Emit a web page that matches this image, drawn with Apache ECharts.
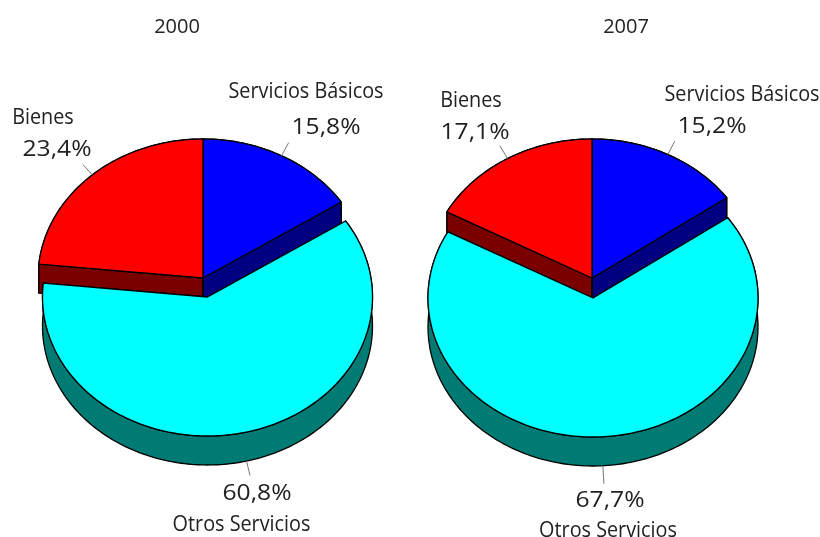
<!DOCTYPE html>
<html><head><meta charset="utf-8">
<script src="https://cdn.jsdelivr.net/npm/echarts@6/dist/echarts.min.js"></script>
<style>html,body{margin:0;padding:0;background:#fff}#c{width:820px;height:537px}</style>
</head><body><div id="c"></div>
<script>
// ---- data ----
const years = ['2000', '2007'];
const categories = ['Servicios Básicos', 'Otros Servicios', 'Bienes'];
const values2000 = [15.8, 60.8, 23.4];
const values2007 = [15.2, 67.7, 17.1];

// ---- styles and layout (no data here) ----
const topColors = ['#0000ff', '#00ffff', '#ff0000'];
const sideColors = ['#000080', '#007b73', '#7a0000'];
const drawOrder = [0, 2, 1];
const pies = [
  { cx: 203, cy: 278, rx: 165, ry: 139, depth: 29, explode: [[0, 0], [4.5, 19], [0, 0]],
    nameAt: [[306, 92], [241.5, 525], [43, 118]], pctAt: [[326, 128], [257, 494], [57, 150]], leader: [15, 15, 14] },
  { cx: 592, cy: 278, rx: 165, ry: 139, depth: 29, explode: [[0, 0], [1, 20], [0, 0]],
    nameAt: [[742, 95], [608, 531], [471, 101]], pctAt: [[712, 127], [610, 501], [475, 133]], leader: [15, 18, 15] }
];
const allValues = [values2000, values2007];
const NAME_FONT = { font: '22px "Open Sans"', scaleX: 0.9 };
const PCT_FONT = { font: '22px "Open Sans"', scaleX: 1.12 };
const TEXT = '#222';

function pt(p, off, theta, dy) {
  return [p.cx + off[0] + p.rx * Math.sin(theta), p.cy + off[1] + (dy || 0) - p.ry * Math.cos(theta)];
}
function arc(p, off, a, b, dy) {
  const n = Math.max(2, Math.ceil((b - a) / 0.02)), r = [];
  for (let i = 0; i <= n; i++) r.push(pt(p, off, a + (b - a) * i / n, dy));
  return r;
}
function poly(points, fill) {
  return { type: 'polygon', shape: { points }, style: { fill, stroke: '#000', lineWidth: 1.3, lineJoin: 'round' } };
}
function label(text, at, f) {
  return { type: 'text', x: at[0], y: at[1], scaleX: f.scaleX, z2: 10,
    style: { text, x: 0, y: 0, font: f.font, fill: TEXT, align: 'center', verticalAlign: 'middle' } };
}
function makeRender(yi) {
  const vals = allValues[yi], p = pies[yi];
  const total = vals.reduce((a, b) => a + b, 0);
  return function (params, api) {
    const i = api.value(0);
    let s = 0;
    for (let k = 0; k < i; k++) s += vals[k];
    const a = s / total * 2 * Math.PI, b = (s + vals[i]) / total * 2 * Math.PI;
    const off = p.explode[i], d = p.depth;
    const apex = [p.cx + off[0], p.cy + off[1]];
    const apexLow = [apex[0], apex[1] + d];
    const top = arc(p, off, a, b, 0), low = arc(p, off, a, b, d);
    const children = [
      poly(top.concat(low.slice().reverse()), sideColors[i]),
      poly([apex, top[0], low[0], apexLow], sideColors[i]),
      poly([apex, top[top.length - 1], low[low.length - 1], apexLow], sideColors[i]),
      poly([apex].concat(top), topColors[i])
    ];
    const mid = (a + b) / 2, lowerHalf = Math.cos(mid) < 0;
    const l0 = pt(p, off, mid, lowerHalf ? d : 0);
    const ux = Math.sin(mid), uy = -Math.cos(mid), L = p.leader[i];
    children.push({ type: 'line', z2: 5,
      shape: { x1: l0[0], y1: l0[1], x2: l0[0] + ux * L, y2: l0[1] + uy * L },
      style: { stroke: '#777', lineWidth: 1 } });
    children.push(label(categories[i], p.nameAt[i], NAME_FONT));
    children.push(label(vals[i].toFixed(1).replace('.', ',') + '%', p.pctAt[i], PCT_FONT));
    return { type: 'group', children };
  };
}
const chart = echarts.init(document.getElementById('c'), null, { renderer: 'canvas' });
chart.setOption({
  animation: false,
  backgroundColor: '#fff',
  title: [
    { text: years[0], left: 172, top: 22, textAlign: 'center', textVerticalAlign: 'middle',
      textStyle: { color: TEXT, fontFamily: 'Open Sans', fontWeight: 'normal', fontSize: 20 } },
    { text: years[1], left: 621, top: 22, textAlign: 'center', textVerticalAlign: 'middle',
      textStyle: { color: TEXT, fontFamily: 'Open Sans', fontWeight: 'normal', fontSize: 20 } }
  ],
  series: years.map((y, yi) => ({
    type: 'custom', name: y, coordinateSystem: 'none', silent: true, clip: false,
    data: drawOrder.map(i => [i]),
    renderItem: makeRender(yi)
  }))
});
</script></body></html>
